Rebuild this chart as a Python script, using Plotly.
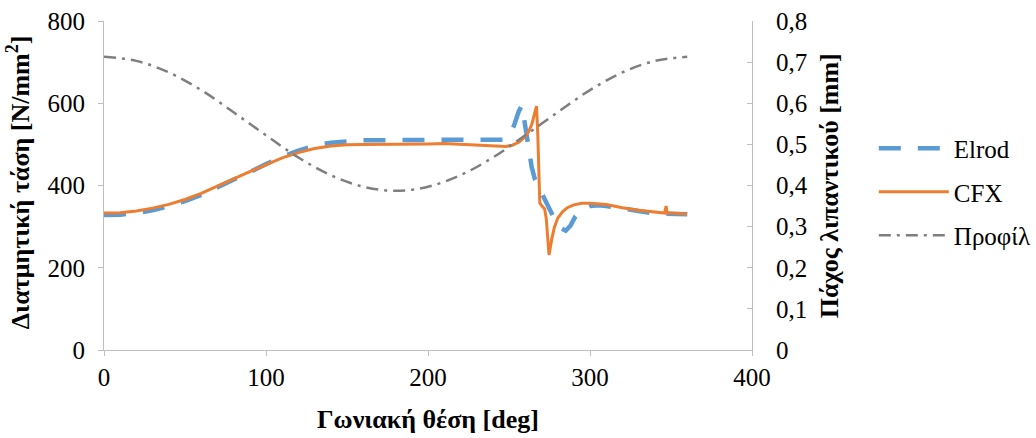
import plotly.graph_objects as go

# Elrod (shear stress, N/mm^2)
elrod_deg = [0, 10, 20, 30, 40, 50, 60, 70, 80, 90, 100, 110, 120, 130, 140, 150, 160, 170, 180, 190,
             200, 210, 220, 230, 240, 246, 250, 253, 256, 258, 260, 262, 264, 266, 268, 270, 273, 276,
             279, 282, 285, 288, 291, 295, 300, 305, 310, 320, 330, 340, 350, 360]
elrod_val = [328, 329, 333, 340, 350, 362, 377, 395, 414, 433, 452, 470, 485, 497, 504, 508, 510, 510, 511, 511,
             511, 511, 511, 510, 510, 511, 520, 545, 580, 595, 545, 490, 445, 415, 398, 386, 360, 335,
             312, 296, 290, 303, 325, 342, 350, 352, 350, 345, 338, 332, 330, 330]

# CFX (shear stress, N/mm^2)
cfx_deg = [0, 10, 20, 30, 40, 50, 60, 70, 80, 90, 100, 110, 120, 130, 140, 150, 160, 170, 180, 190,
           200, 210, 220, 230, 240, 248, 252, 256, 259, 262, 264, 266, 267, 267.8, 268.5, 269, 270, 272,
           273, 274.7, 276.5, 278, 280, 283, 286, 290, 295, 300, 310, 320, 330, 340, 346, 347, 347.6, 350, 360]
cfx_val = [333, 334, 338, 345, 354, 366, 381, 398, 416, 434, 451, 467, 480, 490, 496, 499, 500, 500, 500, 500,
           501, 502, 500, 497, 495, 495, 498, 505, 515, 530, 548, 576, 593, 520, 410, 358, 352, 343,
           320, 231, 272, 298, 320, 336, 346, 353, 357, 357, 354, 346, 340, 335, 333, 350, 333, 333, 331]

# Profile (film thickness, mm)
prof_deg = [0, 20, 40, 60, 80, 100, 120, 140, 160, 180, 200, 220, 240, 260, 280, 300, 320, 340, 360]
prof_val = [0.713, 0.703, 0.675, 0.632, 0.578, 0.522, 0.468, 0.425, 0.397, 0.387, 0.397, 0.425, 0.468,
            0.522, 0.578, 0.632, 0.675, 0.703, 0.713]

x_title = "Γωνιακή θέση [deg]"
y_title = "Διατμητική τάση [N/mm<sup>2</sup>]"
y2_title = "Πάχος λιπαντικού [mm]"

FONT = "Liberation Serif"

fig = go.Figure()
fig.add_trace(go.Scatter(x=elrod_deg, y=elrod_val, mode="lines", name="Elrod", legendgroup="a",
                         line=dict(color="#5b9bd5", width=4.5, dash="22px,17px")))
fig.add_trace(go.Scatter(x=cfx_deg, y=cfx_val, mode="lines", name="CFX", legendgroup="b",
                         line=dict(color="#ed7d31", width=3)))
fig.add_trace(go.Scatter(x=prof_deg, y=prof_val, mode="lines", name="Προφίλ", legendgroup="c", yaxis="y2",
                         line=dict(color="#7f7f7f", width=2.5, dash="12px,6px,3px,6px"), line_shape="spline"))

axis_common = dict(showgrid=False, zeroline=False, showline=True, linecolor="#bfbfbf", linewidth=1,
                   tickcolor="#bfbfbf", ticklen=5, automargin=False,
                   tickfont=dict(family=FONT, size=25, color="black"))

title_font = dict(family=FONT, size=26, color="black", weight="bold")

fig.update_layout(
    width=1036, height=438,
    margin=dict(l=104, r=284, t=21, b=88, autoexpand=False),
    plot_bgcolor="white", paper_bgcolor="white",
    separators=",.",
    font=dict(family=FONT, size=25, color="black"),
    xaxis=dict(range=[0, 400], dtick=100, ticks="outside", **axis_common,
               title=dict(text=x_title, font=title_font, standoff=19)),
    yaxis=dict(range=[0, 800], dtick=200, ticks="outside", ticklabelstandoff=8, **axis_common),
    yaxis2=dict(range=[0, 0.8], dtick=0.1, ticks="inside", overlaying="y", side="right",
                ticklabelstandoff=18, **axis_common),
    legend=dict(x=1.188, y=0.48, xanchor="left", yanchor="middle", tracegroupgap=8, itemwidth=70,
                font=dict(family=FONT, size=25), bgcolor="rgba(0,0,0,0)"),
    showlegend=True,
    annotations=[
        dict(text=y_title, xref="paper", yref="paper", x=-0.1327, y=0.51, textangle=-90,
             showarrow=False, xanchor="center", yanchor="middle", font=title_font),
        dict(text=y2_title, xref="paper", yref="paper", x=1.12, y=0.5, textangle=-90,
             showarrow=False, xanchor="center", yanchor="middle", font=title_font),
    ],
)

fig.write_html("out.html", config={"displayModeBar": False},
               post_script="document.body.style.margin='0';document.body.style.overflow='hidden';")
